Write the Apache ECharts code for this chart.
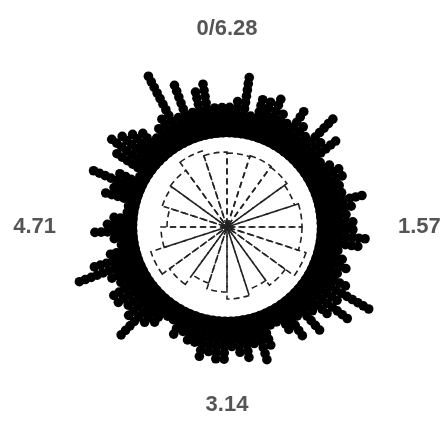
<!DOCTYPE html>
<html><head><meta charset="utf-8">
<style>html,body{margin:0;padding:0;background:#fff}#c{width:441px;height:439px}</style>
<script src="https://cdn.jsdelivr.net/npm/echarts@6/dist/echarts.min.js"></script>
</head><body><div id="c"></div>
<script>
// stacked dot counts per angular column (100 columns clockwise from the top)
const dotCounts=[5,6,10,4,7,7,8,6,5,8,6,5,10,6,8,4,5,6,6,5,5,8,6,5,6,6,8,7,4,5,6,5,7,12,7,10,7,5,8,4,7,5,3,3,6,8,5,7,6,5,7,7,6,7,5,5,4,5,3,3,5,6,10,7,6,7,7,5,6,11,8,5,3,4,7,5,4,2,2,6,5,9,5,2,7,9,8,7,6,4,5,6,13,5,10,5,8,9,5,5];
// rose sector radii (20 sectors of 18 degrees)
const roseCategories=['0','18','36','54','72','90','108','126','144','162','180','198','216','234','252','270','288','306','324','342'];
const roseValues=[74,75,74,71,75,75,83,72,66,72,65,59,71,80,66,60,68,70,80,75];
const tickValues=[0,1.5708,3.1416,4.7124];
const tickLabels=['0/6.28','1.57','3.14','4.71'];
const TWO_PI=6.2832;
const points=[];
dotCounts.forEach((n,i)=>{const a=(i+0.35)*TWO_PI/dotCounts.length;for(let k=0;k<n;k++)points.push([k,a]);});
const chart=echarts.init(document.getElementById('c'),null,{renderer:'canvas'});
const labelFont={color:'#555',fontFamily:'Liberation Sans',fontWeight:'bold',fontSize:22};
chart.setOption({
 animation:false,backgroundColor:'#fff',
 polar:[{center:[227,227],radius:170},{center:[227,227],radius:91}],
 angleAxis:[
  {polarIndex:0,type:'value',min:0,max:TWO_PI,interval:1.5708,startAngle:90,clockwise:true,
   axisLine:{show:false},axisTick:{show:false},splitLine:{show:false},
   axisLabel:{margin:-3,...labelFont,
    formatter:v=>{const i=tickValues.findIndex(t=>Math.abs(t-v)<0.01);if(i<0)return '';return '{s'+i+'|'+tickLabels[i]+'}';},
    rich:{s0:{...labelFont,padding:[0,0,20,0]},s1:{...labelFont,padding:[0,0,0,4]},s2:{...labelFont},s3:{...labelFont,padding:[0,4,0,0]}}}},
  {polarIndex:1,type:'category',data:roseCategories,startAngle:90,clockwise:true,boundaryGap:true,
   axisLine:{show:true,lineStyle:{color:'#000',width:2}},axisTick:{show:false},axisLabel:{show:false},splitLine:{show:false}}
 ],
 radiusAxis:[
  {polarIndex:0,type:'value',min:-15,max:12,axisLine:{show:false},axisTick:{show:false},axisLabel:{show:false},splitLine:{show:false}},
  {polarIndex:1,type:'value',min:0,max:91,axisLine:{show:false},axisTick:{show:false},axisLabel:{show:false},splitLine:{show:false}}
 ],
 series:[
  {type:'scatter',coordinateSystem:'polar',polarIndex:0,data:points,symbol:'circle',symbolSize:9.6,itemStyle:{color:'#000',opacity:1},silent:true},
  {type:'bar',coordinateSystem:'polar',polarIndex:1,data:roseValues,barWidth:'100%',barCategoryGap:'0%',
   itemStyle:{color:'rgba(0,0,0,0)',borderColor:'#222',borderWidth:1.6,borderType:[6,4]},silent:true}
 ]
});
</script></body></html>
